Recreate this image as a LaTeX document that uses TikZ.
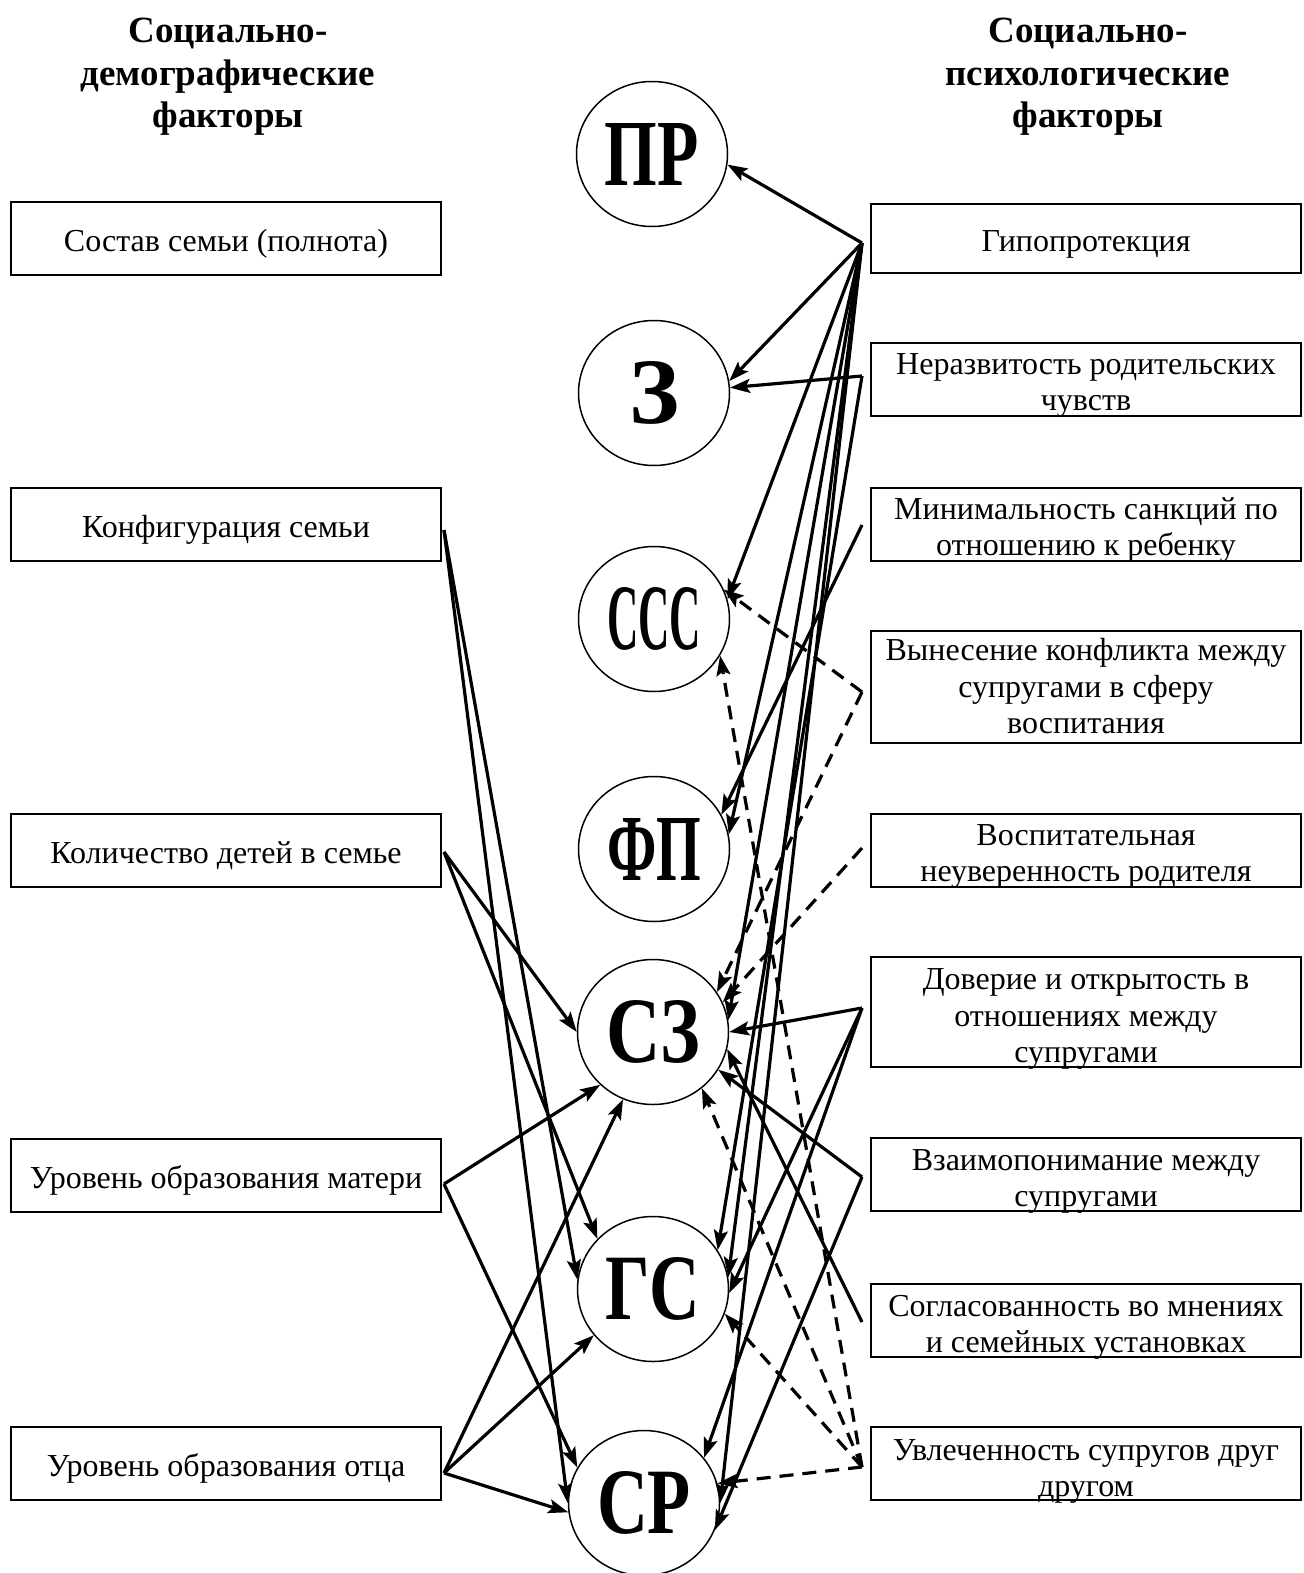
\documentclass[tikz,border=0pt]{standalone}
\usepackage{fontspec}
\setmainfont{Liberation Serif}
\usetikzlibrary{shapes.geometric,arrows.meta,calc}
\newcommand{\circlbl}[2][94pt]{\resizebox{#1}{62pt}{\bfseries #2}}
\newcommand{\ftext}[2][6pt]{\raisebox{-#1}[\height][\depth]{\begin{tabular}{@{}c@{}}#2\end{tabular}}}

\begin{document}
\begin{tikzpicture}
	[x=1pt,y=-1pt,
	factor/.style={draw,line width=2pt,minimum width=430pt,minimum height=73pt,inner sep=0pt,
		font=\fontsize{32}{36.5}\selectfont},
	result/.style={draw,ellipse,line width=1.5pt,minimum width=151pt,minimum height=145pt,inner sep=0pt},
	head/.style={align=center,font=\fontsize{37}{42.5}\selectfont\bfseries},
	link/.style={line width=3.2pt,-{Stealth[length=20pt,width=14pt,inset=4pt]}},
	weak/.style={link,dash pattern=on 14pt off 9pt}]
	\useasboundingbox (0,0) rectangle (1303,1573);
	\node[head] (demhead) at (228,77) {Социально-\\демографические\\факторы};
	\node[head] (psyhead) at (1088,77) {Социально-\\психологические\\факторы};

	\node[factor] (sostav) at (226,238) {\ftext{Состав семьи (полнота)}};
	\node[factor] (konf) at (226,524) {\ftext{Конфигурация семьи}};
	\node[factor] (kol) at (226,850) {\ftext{Количество детей в семье}};
	\node[factor] (mat) at (226,1175) {\ftext{Уровень образования матери}};
	\node[factor] (otec) at (226,1463) {\ftext{Уровень образования отца}};

	\node[factor,minimum height=69pt] (gip) at (1086,238) {\ftext{Гипопротекция}};
	\node[factor] (ner) at (1086,379) {\ftext{Неразвитость родительских\\чувств}};
	\node[factor] (minim) at (1086,524) {\ftext{Минимальность санкций по\\отношению к ребенку}};
	\node[factor,minimum height=112pt] (vyn) at (1086,687) {\ftext[3pt]{Вынесение конфликта между\\супругами в сферу\\воспитания}};
	\node[factor] (vosp) at (1086,850) {\ftext{Воспитательная\\неуверенность родителя}};
	\node[factor,minimum height=110pt] (dov) at (1086,1012) {\ftext[7pt]{Доверие и открытость в\\отношениях между\\супругами}};
	\node[factor] (vzaim) at (1086,1174) {\ftext[7pt]{Взаимопонимание между\\супругами}};
	\node[factor] (sogl) at (1086,1320) {\ftext[7pt]{Согласованность во мнениях\\и семейных установках}};
	\node[factor] (uvl) at (1086,1463) {\ftext[8pt]{Увлеченность супругов друг\\другом}};

	\node[result] (pr) at (652,154) {\circlbl{ПР}};
	\node[result] (z) at (654,393) {\circlbl[50pt]{З}};
	\node[result] (sss) at (654,619) {\circlbl{ССС}};
	\node[result] (fp) at (654,849) {\circlbl{ФП}};
	\node[result] (sz) at (653,1032) {\circlbl{СЗ}};
	\node[result] (gs) at (653,1289) {\circlbl{ГС}};
	\node[result] (sr) at (644,1503) {\circlbl{СР}};

	\foreach \n/\d in {gip/5,ner/-3,minim/1,vyn/5,vosp/-2,dov/-4,vzaim/3,sogl/2,uvl/4}
		\coordinate (\n-p) at ($(\n.west)+(-8,\d)$);
	\foreach \n/\d in {konf/6,kol/2,mat/9,otec/10}
		\coordinate (\n-p) at ($(\n.east)+(2,\d)$);

	\foreach \a/\b in {gip/pr.-8,gip/z.9,gip/sss.15,gip/fp.11,gip/sz.9,gip/gs.9,gip/sr.0,
		ner/z.4,ner/gs.31,minim/fp.27,dov/sz.0,dov/gs.-3,dov/sr.37,vzaim/sz.-30,vzaim/sr.-21,
		sogl/sz.-13,konf/gs.173,konf/sr.180,kol/sz.180,kol/gs.138,mat/sz.225,mat/sr.152,
		otec/sz.246,otec/gs.218,otec/sr.187}
		\draw[link] (\a-p) -- (\b);
	\foreach \a/\b in {vyn/sss.23,vyn/sz.32,vosp/sz.23,uvl/sss.-29,uvl/sz.-49,uvl/gs.-19,uvl/sr.15}
		\draw[weak] (\a-p) -- (\b);
\end{tikzpicture}
\end{document}
